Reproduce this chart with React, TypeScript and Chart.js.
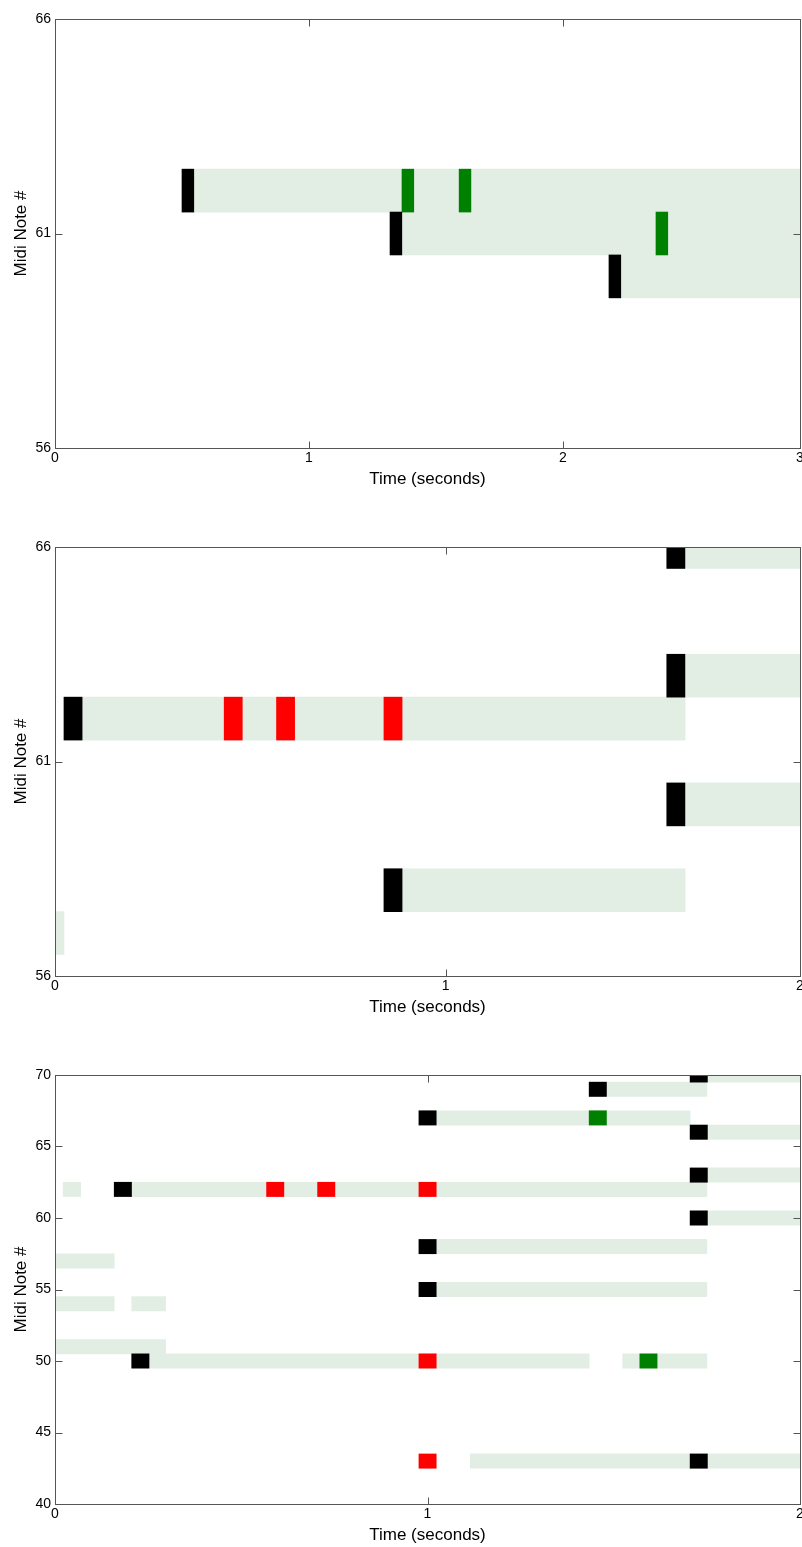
import React, { useEffect, useRef } from 'react';
import { Chart, registerables } from 'chart.js';

Chart.register(...registerables);

// [midi note, start (s), end (s)]
type Seg = [number, number, number];
// [midi note, onset time (s)]
type Onset = [number, number];

// ---------- Panel 1 ----------
const p1Sustain: Seg[] = [
  [62, 0.5, 2.933],
  [61, 1.319, 2.933],
  [60, 2.181, 2.933],
];
const p1Black: Onset[] = [
  [62, 0.5],
  [61, 1.319],
  [60, 2.181],
];
const p1Red: Onset[] = [];
const p1Green: Onset[] = [
  [62, 1.366],
  [62, 1.591],
  [61, 2.366],
];
const p1XMax = 2.933;
const p1XTicks = [0, 1, 2, 2.933];
const p1XLabels = ['0', '1', '2', '3'];
const p1YRange = [56, 66];

// ---------- Panel 2 ----------
const p2Sustain: Seg[] = [
  [57, 0, 0.023],
  [62, 0.023, 1.613],
  [58, 0.842, 1.613],
  [66, 1.566, 1.907],
  [63, 1.566, 1.907],
  [60, 1.566, 1.907],
];
const p2Black: Onset[] = [
  [62, 0.023],
  [58, 0.842],
  [66, 1.566],
  [63, 1.566],
  [60, 1.566],
];
const p2Red: Onset[] = [
  [62, 0.433],
  [62, 0.567],
  [62, 0.842],
];
const p2Green: Onset[] = [];
const p2XMax = 1.907;
const p2XTicks = [0, 1, 1.907];
const p2XLabels = ['0', '1', '2'];
const p2YRange = [56, 66];

// ---------- Panel 3 ----------
const p3Sustain: Seg[] = [
  [62, 0.022, 0.069],
  [62, 0.159, 1.75],
  [57, 0, 0.159],
  [54, 0, 0.159],
  [54, 0.206, 0.297],
  [51, 0, 0.297],
  [50, 0.206, 1.434],
  [50, 1.524, 1.75],
  [43, 1.115, 2],
  [70, 1.705, 2],
  [69, 1.434, 1.75],
  [67, 0.977, 1.705],
  [66, 1.705, 2],
  [63, 1.705, 2],
  [60, 1.705, 2],
  [58, 0.977, 1.75],
  [55, 0.977, 1.75],
];
const p3Black: Onset[] = [
  [62, 0.159],
  [50, 0.206],
  [70, 1.705],
  [69, 1.434],
  [67, 0.977],
  [66, 1.705],
  [63, 1.705],
  [60, 1.705],
  [58, 0.977],
  [55, 0.977],
  [43, 1.705],
];
const p3Red: Onset[] = [
  [62, 0.568],
  [62, 0.705],
  [62, 0.977],
  [50, 0.977],
  [43, 0.977],
];
const p3Green: Onset[] = [
  [67, 1.434],
  [50, 1.57],
];
const p3XMax = 2;
const p3XTicks = [0, 1, 2];
const p3XLabels = ['0', '1', '2'];
const p3YRange = [40, 70];

const yStep = 5;

// one analysis frame (marker duration in seconds)
const FRAME = 0.0464;

const FONT = '"Liberation Sans", Arial, Helvetica, sans-serif';
const SUSTAIN_COLOR = '#e2eee4';
const FRAME_COLOR = '#555555';

const framePlugin = {
  id: 'mplFrame',
  afterDatasetsDraw(chart: any) {
    const { ctx, chartArea, scales } = chart;
    const l = Math.round(chartArea.left) + 0.5;
    const r = Math.round(chartArea.right) + 0.5;
    const t = Math.round(chartArea.top) + 0.5;
    const b = Math.round(chartArea.bottom) + 0.5;
    ctx.save();
    ctx.strokeStyle = FRAME_COLOR;
    ctx.lineWidth = 1;
    ctx.strokeRect(l, t, r - l, b - t);
    const tl = 7;
    ctx.beginPath();
    for (const tk of scales.x.ticks) {
      const px = Math.round(scales.x.getPixelForValue(tk.value)) + 0.5;
      ctx.moveTo(px, b);
      ctx.lineTo(px, b - tl);
      ctx.moveTo(px, t);
      ctx.lineTo(px, t + tl);
    }
    for (const tk of scales.y.ticks) {
      const py = Math.round(scales.y.getPixelForValue(tk.value)) + 0.5;
      ctx.moveTo(l, py);
      ctx.lineTo(l + tl, py);
      ctx.moveTo(r, py);
      ctx.lineTo(r - tl, py);
    }
    ctx.stroke();
    ctx.restore();
  },
};

type RollProps = {
  top: number;
  xMax: number;
  xTicks: number[];
  xLabels: string[];
  yRange: number[];
  sustain: Seg[];
  black: Onset[];
  red: Onset[];
  green: Onset[];
};

const W = 802;
const H = 491;

function PianoRoll({ top, xMax, xTicks, xLabels, yRange, sustain, black, red, green }: RollProps) {
  const ref = useRef<HTMLCanvasElement | null>(null);

  useEffect(() => {
    if (!ref.current) return;
    const segs = (s: Seg[]) => s.map(([n, a, e]) => ({ x: [a, e], y: n }));
    const marks = (o: Onset[]) => o.map(([n, t]) => ({ x: [t, t + FRAME], y: n }));
    const chart = new Chart(ref.current, {
      type: 'bar',
      data: {
        datasets: [
          { label: 'sustain', data: segs(sustain) as any, backgroundColor: SUSTAIN_COLOR, order: 2 },
          { label: 'onset', data: marks(black) as any, backgroundColor: '#000000', order: 1 },
          { label: 'red', data: marks(red) as any, backgroundColor: '#ff0000', order: 1 },
          { label: 'green', data: marks(green) as any, backgroundColor: '#008000', order: 1 },
        ],
      },
      options: {
        indexAxis: 'y',
        responsive: false,
        animation: false,
        events: [],
        layout: { padding: { top: 19, right: 2, left: 0, bottom: 0 } },
        datasets: {
          bar: {
            grouped: false,
            barPercentage: 1,
            categoryPercentage: 1,
            borderWidth: 0,
            clip: 0 as any,
          },
        },
        plugins: {
          legend: { display: false },
          tooltip: { enabled: false },
          title: { display: false },
        },
        scales: {
          x: {
            type: 'linear',
            min: 0,
            max: xMax,
            offset: false,
            grid: { display: false, drawTicks: false },
            border: { display: false },
            afterBuildTicks: (s: any) => {
              s.ticks = xTicks.map((v) => ({ value: v }));
            },
            ticks: {
              color: '#000000',
              padding: 2,
              maxRotation: 0,
              autoSkip: false,
              font: { family: FONT, size: 14 },
              callback: (_v: any, i: number) => xLabels[i],
            },
            title: {
              display: true,
              text: 'Time (seconds)',
              color: '#000000',
              font: { family: FONT, size: 17 },
              padding: { top: 0, bottom: 1 },
            },
            afterFit: (s: any) => {
              s.height = H - 448;
              s.paddingLeft = 0;
              s.paddingRight = 0;
            },
          },
          y: {
            type: 'linear',
            min: yRange[0],
            max: yRange[1],
            offset: false,
            grid: { display: false, drawTicks: false },
            border: { display: false },
            ticks: {
              stepSize: yStep,
              color: '#000000',
              padding: 4,
              autoSkip: false,
              font: { family: FONT, size: 14 },
            },
            title: {
              display: true,
              text: 'Midi Note #',
              color: '#000000',
              font: { family: FONT, size: 17 },
              padding: { top: 11, bottom: 0 },
            },
            afterFit: (s: any) => {
              s.width = 55;
              s.paddingTop = 0;
              s.paddingBottom = 0;
            },
          },
        },
      } as any,
      plugins: [framePlugin],
    });
    return () => chart.destroy();
  }, []);

  return (
    <canvas
      ref={ref}
      width={W}
      height={H}
      style={{ position: 'absolute', left: 0, top, width: W, height: H, display: 'block' }}
    />
  );
}

export default function App() {
  useEffect(() => {
    document.body.style.margin = '0';
    document.body.style.overflow = 'hidden';
  }, []);
  return (
    <div
      style={{
        position: 'fixed',
        left: 0,
        top: 0,
        width: 802,
        height: 1547,
        overflow: 'hidden',
        background: '#ffffff',
      }}
    >
      <PianoRoll top={0} xMax={p1XMax} xTicks={p1XTicks} xLabels={p1XLabels} yRange={p1YRange} sustain={p1Sustain} black={p1Black} red={p1Red} green={p1Green} />
      <PianoRoll top={528} xMax={p2XMax} xTicks={p2XTicks} xLabels={p2XLabels} yRange={p2YRange} sustain={p2Sustain} black={p2Black} red={p2Red} green={p2Green} />
      <PianoRoll top={1056} xMax={p3XMax} xTicks={p3XTicks} xLabels={p3XLabels} yRange={p3YRange} sustain={p3Sustain} black={p3Black} red={p3Red} green={p3Green} />
    </div>
  );
}
